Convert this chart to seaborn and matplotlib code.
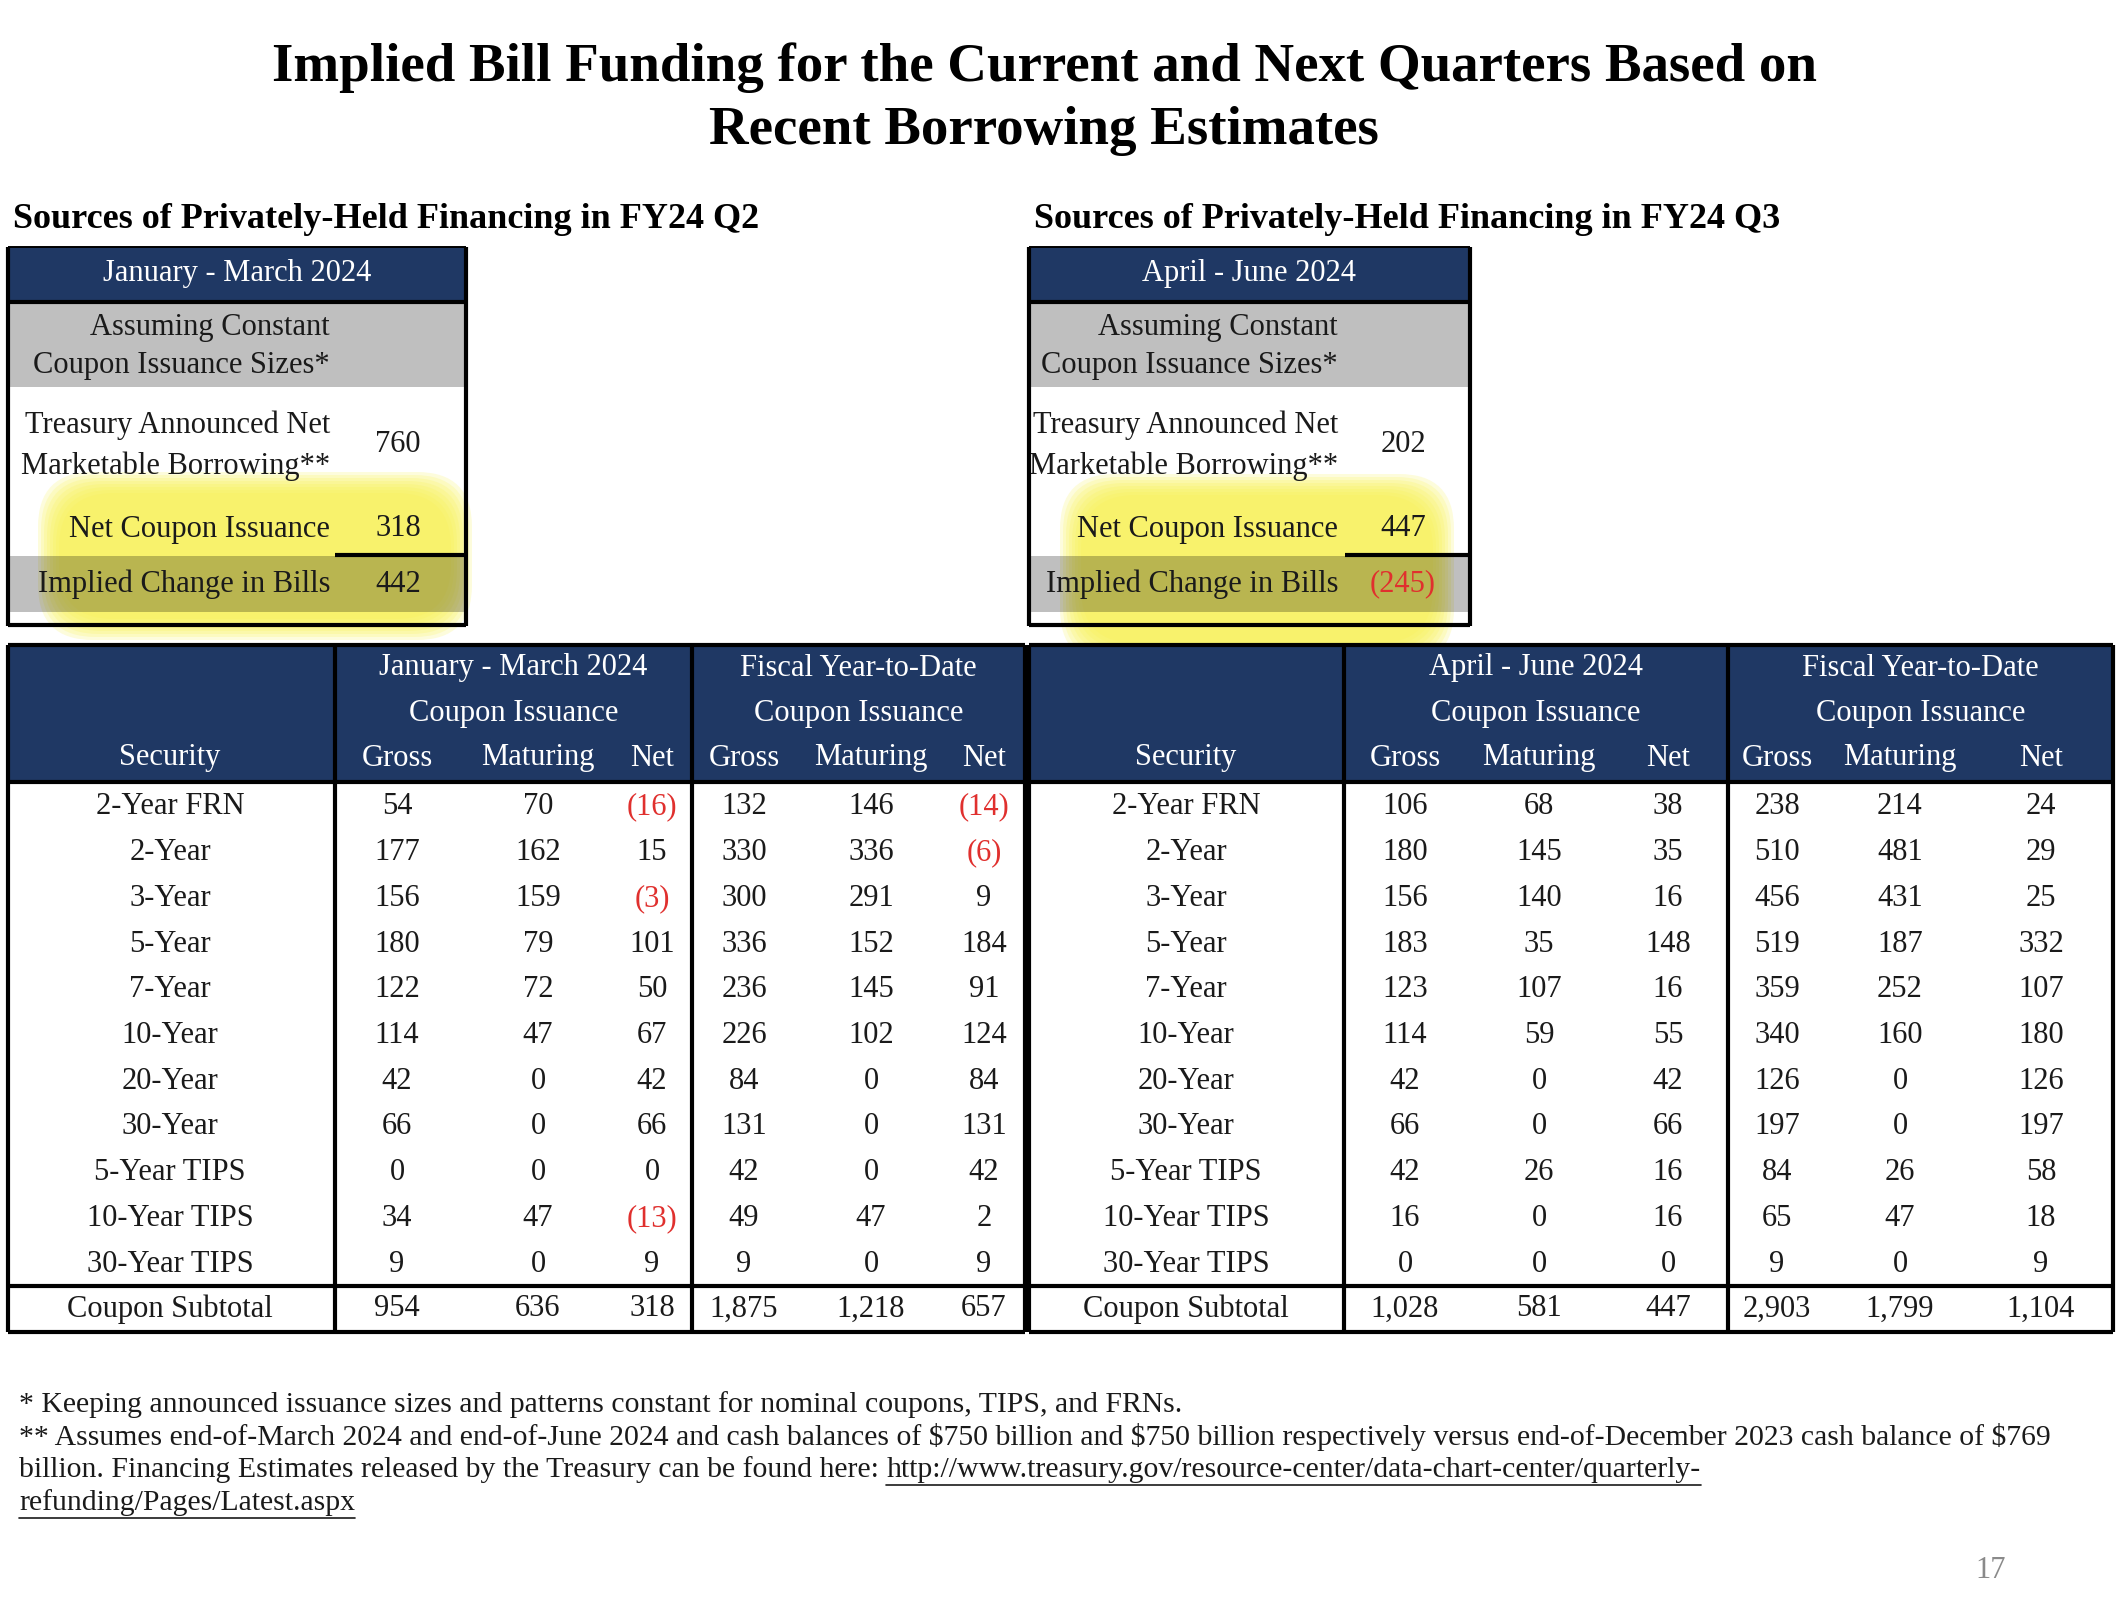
import matplotlib
matplotlib.use("Agg")
import matplotlib.pyplot as plt
from matplotlib.patches import Rectangle, FancyBboxPatch
import seaborn as sns

sns.set_theme(style="white")
plt.rcParams['font.family'] = ['Liberation Serif', 'DejaVu Serif']

# ---------------- data ----------------
title_lines = ["Implied Bill Funding for the Current and Next Quarters Based on",
               "Recent Borrowing Estimates"]
section_titles = ["Sources of Privately-Held Financing in FY24 Q2",
                  "Sources of Privately-Held Financing in FY24 Q3"]
period_labels = ["January - March 2024", "April - June 2024"]

small_labels = [["Treasury Announced Net", "Marketable Borrowing**"],
                ["Net Coupon Issuance"],
                ["Implied Change in Bills"]]
small_q2 = [760, 318, 442]
small_q3 = [202, 447, -245]

securities = ["2-Year FRN", "2-Year", "3-Year", "5-Year", "7-Year", "10-Year",
              "20-Year", "30-Year", "5-Year TIPS", "10-Year TIPS", "30-Year TIPS"]

q2_gross = [54, 177, 156, 180, 122, 114, 42, 66, 0, 34, 9]
q2_maturing = [70, 162, 159, 79, 72, 47, 0, 0, 0, 47, 0]
q2_net = [-16, 15, -3, 101, 50, 67, 42, 66, 0, -13, 9]
fytd_q2_gross = [132, 330, 300, 336, 236, 226, 84, 131, 42, 49, 9]
fytd_q2_maturing = [146, 336, 291, 152, 145, 102, 0, 0, 0, 47, 0]
fytd_q2_net = [-14, -6, 9, 184, 91, 124, 84, 131, 42, 2, 9]
q2_subtotal = [954, 636, 318, 1875, 1218, 657]

q3_gross = [106, 180, 156, 183, 123, 114, 42, 66, 42, 16, 0]
q3_maturing = [68, 145, 140, 35, 107, 59, 0, 0, 26, 0, 0]
q3_net = [38, 35, 16, 148, 16, 55, 42, 66, 16, 16, 0]
fytd_q3_gross = [238, 510, 456, 519, 359, 340, 126, 197, 84, 65, 9]
fytd_q3_maturing = [214, 481, 431, 187, 252, 160, 0, 0, 26, 47, 0]
fytd_q3_net = [24, 29, 25, 332, 107, 180, 126, 197, 58, 18, 9]
q3_subtotal = [1028, 581, 447, 2903, 1799, 1104]

col_labels = ["Gross", "Maturing", "Net"]

footnote1 = "* Keeping announced issuance sizes and patterns constant for nominal coupons, TIPS, and FRNs."
footnote2 = ("** Assumes end-of-March 2024 and end-of-June 2024 and cash balances of $750 billion and "
             "$750 billion respectively versus end-of-December 2023 cash balance of $769")
footnote3a = "billion. Financing Estimates released by the Treasury can be found here: "
footnote3b = "http://www.treasury.gov/resource-center/data-chart-center/quarterly-"
footnote4 = "refunding/Pages/Latest.aspx"
page_number = "17"

# ---------------- style ----------------
NAVY = "#1F3864"
RED = "#E0302E"
TXT = "#1a1a1a"
YELLOW = "#F8F250"
BODY_FS = 22
THICK = 3.0
THIN = 1.4

W, H = 2120, 1612
fig = plt.figure(figsize=(W / 100, H / 100), dpi=100)
ax = fig.add_axes([0, 0, 1, 1])
ax.set_xlim(0, W)
ax.set_ylim(H, 0)
ax.axis("off")


def fmt(v):
    s = f"{abs(v):,}"
    return (f"({s})", RED) if v < 0 else (s, TXT)


def hline(x0, x1, y, lw=THICK):
    ax.plot([x0, x1], [y, y], color="black", lw=lw, solid_capstyle="butt", zorder=5)


def vline(x, y0, y1, lw=THICK):
    ax.plot([x, x], [y0, y1], color="black", lw=lw, solid_capstyle="butt", zorder=5)


# ---------------- titles ----------------
ax.text(1044, 68, title_lines[0], ha="center", va="center", fontsize=39.5,
        fontweight="bold", color="black")
ax.text(1044, 131, title_lines[1], ha="center", va="center", fontsize=39.5,
        fontweight="bold", color="black")

# ---------------- small tables ----------------
small_specs = [
    dict(x0=8, x1=466, tx=330, vx=398, lx=335, vals=small_q2, period=period_labels[0],
         sec=section_titles[0], sx=13, hl=(38, 472, 434, 168)),
    dict(x0=1029, x1=1470, tx=1338, vx=1403, lx=1345, vals=small_q3, period=period_labels[1],
         sec=section_titles[1], sx=1034, hl=(1060, 474, 394, 190)),
]
for sp in small_specs:
    x0, x1 = sp["x0"], sp["x1"]
    # highlighter stroke (soft edge built from thin layers)
    hx, hy, hw, hh = sp["hl"]
    for k in range(0, 24, 3):
        ax.add_patch(FancyBboxPatch((hx + 30 + k, hy + 30 + k), hw - 60 - 2 * k, hh - 60 - 2 * k,
                                    boxstyle="round,pad=30,rounding_size=55",
                                    fc=YELLOW, ec="none", alpha=0.2, lw=0, zorder=0))
    ax.text(sp["sx"], 219, sp["sec"], ha="left", va="center", fontsize=26,
            fontweight="bold", color="black")
    ax.add_patch(Rectangle((x0, 247), x1 - x0, 54, fc=NAVY, ec="none", zorder=1))
    ax.text((x0 + x1) / 2, 273, sp["period"], ha="center", va="center",
            fontsize=BODY_FS, color="white", zorder=6)
    hline(x0, x1, 247, THIN)
    hline(x0, x1, 302, THICK)
    ax.add_patch(Rectangle((x0, 303), x1 - x0, 84, fc="black", alpha=0.25, ec="none", zorder=1))
    ax.text(sp["tx"], 327, "Assuming Constant", ha="right", va="center", fontsize=BODY_FS, color=TXT)
    ax.text(sp["tx"], 366, "Coupon Issuance Sizes*", ha="right", va="center", fontsize=BODY_FS, color=TXT)
    ax.add_patch(Rectangle((x0, 556), x1 - x0, 56, fc="black", alpha=0.25, ec="none", zorder=1))
    ys = [(425, 466, 445), (529, None, 529), (584, None, 584)]
    for lab, (ya, yb, yv), v in zip(small_labels, ys, sp["vals"]):
        ax.text(sp["tx"], ya, lab[0], ha="right", va="center", fontsize=BODY_FS, color=TXT)
        if yb is not None:
            ax.text(sp["tx"], yb, lab[1], ha="right", va="center", fontsize=BODY_FS, color=TXT)
        s, c = fmt(v)
        ax.text(sp["vx"], yv, s, ha="center", va="center", fontsize=BODY_FS, color=c, zorder=6)
    hline(sp["lx"], x1, 555, THICK)
    vline(x0, 247, 626, THICK)
    vline(x1, 247, 626, THICK)
    hline(x0, x1, 625, THICK)

# ---------------- main tables ----------------
panels = [
    dict(x0=8, x1=1025, d1=335, d2=692, secx=170,
         cols=[397, 538, 652, 744, 871, 984],
         data=[q2_gross, q2_maturing, q2_net, fytd_q2_gross, fytd_q2_maturing, fytd_q2_net],
         sub=q2_subtotal, period=period_labels[0]),
    dict(x0=1029, x1=2113, d1=1344, d2=1728, secx=1186,
         cols=[1405, 1539, 1668, 1777, 1900, 2041],
         data=[q3_gross, q3_maturing, q3_net, fytd_q3_gross, fytd_q3_maturing, fytd_q3_net],
         sub=q3_subtotal, period=period_labels[1]),
]
TOP, HDR_B, SUB_T, BOT = 645, 782, 1286, 1332
ROW0, ROWSTEP = 807, 45.7
for p in panels:
    x0, x1 = p["x0"], p["x1"]
    ax.add_patch(Rectangle((x0, TOP), x1 - x0, HDR_B - TOP, fc=NAVY, ec="none", zorder=1))
    ax.text(p["secx"], 758, "Security", ha="center", va="center", fontsize=BODY_FS,
            color="white", zorder=6)
    ax.text((p["d1"] + p["d2"]) / 2, 668, p["period"], ha="center", va="center",
            fontsize=BODY_FS, color="white", zorder=6)
    ax.text((p["d2"] + x1) / 2, 668, "Fiscal Year-to-Date", ha="center", va="center",
            fontsize=BODY_FS, color="white", zorder=6)
    for cx in [(p["d1"] + p["d2"]) / 2, (p["d2"] + x1) / 2]:
        ax.text(cx, 714, "Coupon Issuance", ha="center", va="center",
                fontsize=BODY_FS, color="white", zorder=6)
    for j, cx in enumerate(p["cols"]):
        ax.text(cx, 758, col_labels[j % 3], ha="center", va="center",
                fontsize=BODY_FS, color="white", zorder=6)
    for i, sec in enumerate(securities):
        y = ROW0 + i * ROWSTEP
        ax.text(p["secx"], y, sec, ha="center", va="center", fontsize=BODY_FS, color=TXT)
        for cx, series in zip(p["cols"], p["data"]):
            s, c = fmt(series[i])
            ax.text(cx, y, s, ha="center", va="center", fontsize=BODY_FS, color=c)
    ysub = (SUB_T + BOT) / 2
    ax.text(p["secx"], ysub, "Coupon Subtotal", ha="center", va="center", fontsize=BODY_FS, color=TXT)
    for cx, v in zip(p["cols"], p["sub"]):
        s, c = fmt(v)
        ax.text(cx, ysub, s, ha="center", va="center", fontsize=BODY_FS, color=c)
    hline(x0, x1, TOP, THICK)
    hline(x0, x1, HDR_B, THICK)
    hline(x0, x1, SUB_T, THICK)
    hline(x0, x1, BOT, THICK)
    for xv in [x0, p["d1"], p["d2"], x1]:
        vline(xv, TOP, BOT, THICK)

# ---------------- footnotes ----------------
FN_FS = 21.4
ax.text(19, 1405, footnote1, ha="left", va="center", fontsize=FN_FS, color=TXT)
ax.text(19, 1437, footnote2, ha="left", va="center", fontsize=FN_FS, color=TXT)
t3 = ax.text(19, 1470, footnote3a, ha="left", va="center", fontsize=FN_FS, color=TXT)
fig.canvas.draw()
r = fig.canvas.get_renderer()
bb = t3.get_window_extent(r)
x_end = ax.transData.inverted().transform((bb.x1, bb.y0))[0]
u1 = ax.text(x_end, 1470, footnote3b, ha="left", va="center", fontsize=FN_FS, color=TXT)
u2 = ax.text(19, 1503, footnote4, ha="left", va="center", fontsize=FN_FS, color=TXT)
fig.canvas.draw()
for t, y in [(u1, 1485), (u2, 1518)]:
    b = t.get_window_extent(r)
    xa = ax.transData.inverted().transform((b.x0, b.y0))[0]
    xb = ax.transData.inverted().transform((b.x1, b.y0))[0]
    ax.plot([xa, xb], [y, y], color=TXT, lw=1.2)

ax.text(1991, 1571, page_number, ha="center", va="center", fontsize=22, color="#8a8a8a")

fig.savefig("out.png", dpi=100)
